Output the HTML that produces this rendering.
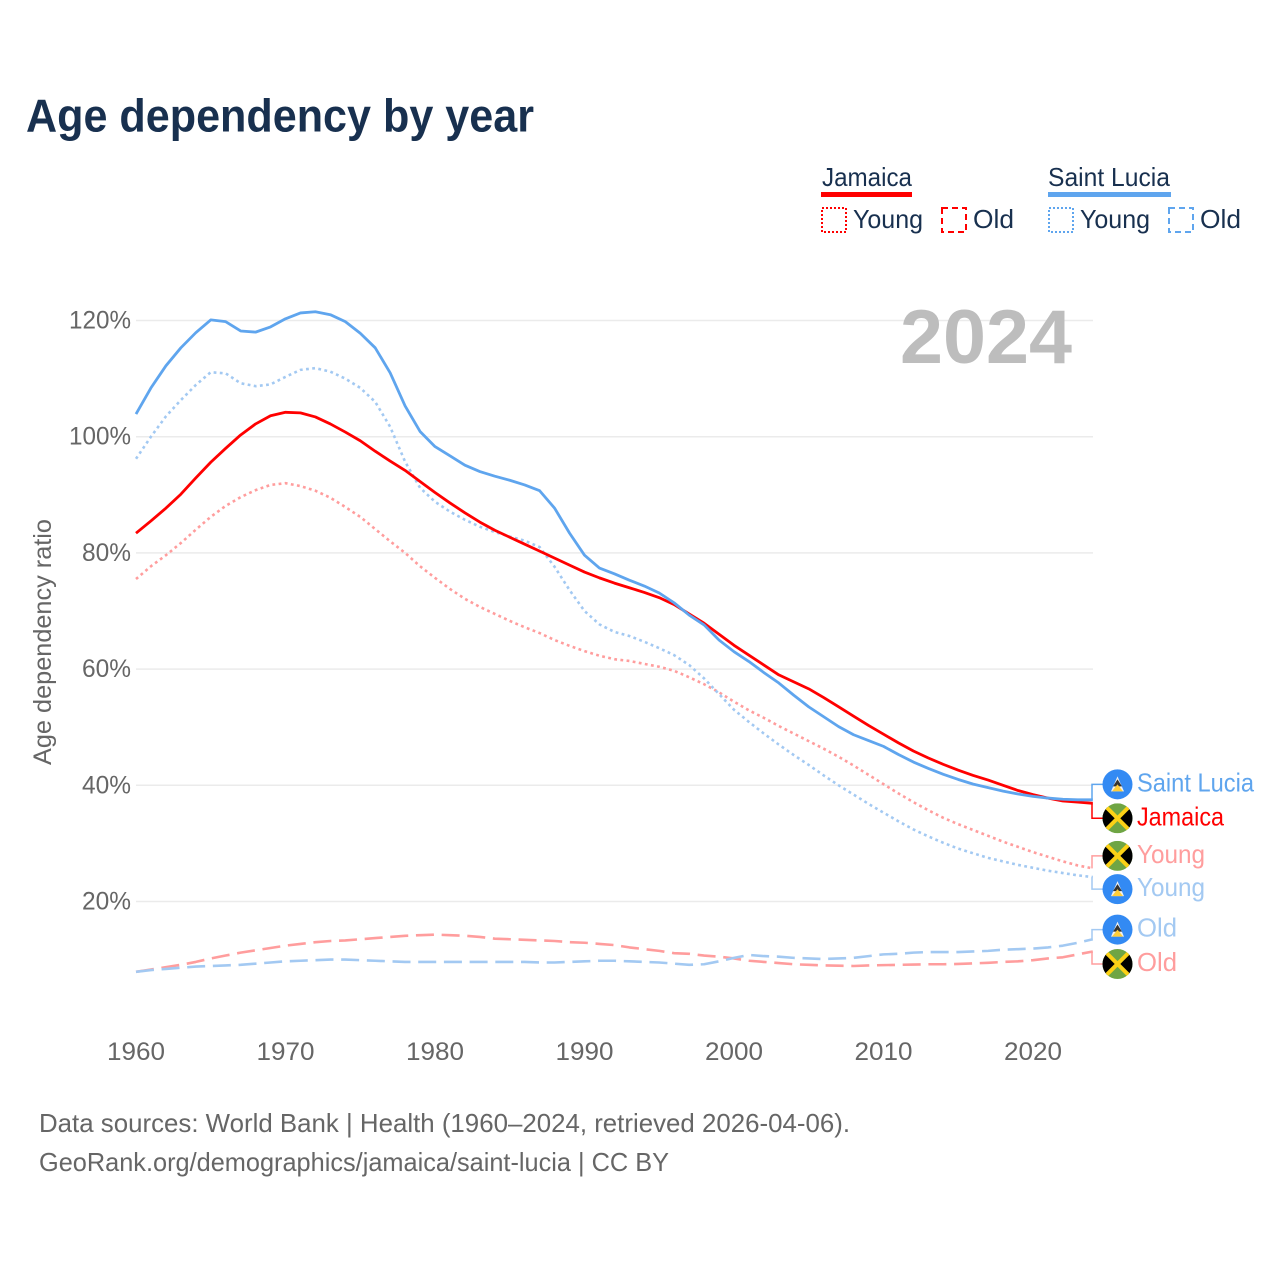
<!DOCTYPE html>
<html lang="en">
<head>
<meta charset="utf-8">
<title>Age dependency by year</title>
<style>
html,body{margin:0;padding:0;background:#fff;}
svg{display:block;font-family:"Liberation Sans",sans-serif;}
</style>
</head>
<body>
<svg id="chart" xmlns="http://www.w3.org/2000/svg" width="1280" height="1280" viewBox="0 0 1280 1280">
  <rect width="1280" height="1280" fill="#fff"/>
  <text x="26" y="131.5" font-size="46" font-weight="700" fill="#18304f" textLength="508" lengthAdjust="spacingAndGlyphs">Age dependency by year</text>

  <g id="legend">
    <text x="822" y="186" font-size="26" fill="#18304f" textLength="90" lengthAdjust="spacingAndGlyphs">Jamaica</text>
    <rect x="821" y="192" width="91" height="5" fill="#ff0000"/>
    <rect x="822" y="208" width="24" height="24" fill="none" stroke="#ff0000" stroke-width="2" stroke-dasharray="2 2"/>
    <text x="853" y="228" font-size="26" fill="#18304f" textLength="70" lengthAdjust="spacingAndGlyphs">Young</text>
    <rect x="942" y="208" width="24" height="24" fill="none" stroke="#ff0000" stroke-width="2" stroke-dasharray="6 4"/>
    <text x="973" y="228" font-size="26" fill="#18304f" textLength="41" lengthAdjust="spacingAndGlyphs">Old</text>

    <text x="1048" y="186" font-size="26" fill="#18304f" textLength="122" lengthAdjust="spacingAndGlyphs">Saint Lucia</text>
    <rect x="1048" y="192" width="123" height="5" fill="#5fa5ee"/>
    <rect x="1049" y="208" width="24" height="24" fill="none" stroke="#5fa5ee" stroke-width="2" stroke-dasharray="2 2"/>
    <text x="1080" y="228" font-size="26" fill="#18304f" textLength="70" lengthAdjust="spacingAndGlyphs">Young</text>
    <rect x="1169" y="208" width="24" height="24" fill="none" stroke="#5fa5ee" stroke-width="2" stroke-dasharray="6 4"/>
    <text x="1200" y="228" font-size="26" fill="#18304f" textLength="41" lengthAdjust="spacingAndGlyphs">Old</text>
  </g>

  <g id="grid"></g>
  <text x="900" y="363" font-size="76" font-weight="700" fill="#bdbdbd" textLength="172" lengthAdjust="spacingAndGlyphs">2024</text>
  <g id="xticks"></g>
  <g id="yticks"></g>
  <text transform="translate(51,642) rotate(-90)" text-anchor="middle" font-size="25" fill="#666" textLength="246" lengthAdjust="spacingAndGlyphs">Age dependency ratio</text>
  <g id="series"></g>
  <g id="labels"></g>

  <text x="39" y="1132" font-size="26" fill="#666" textLength="811" lengthAdjust="spacingAndGlyphs">Data sources: World Bank | Health (1960–2024, retrieved 2026-04-06).</text>
  <text x="39" y="1171" font-size="26" fill="#666" textLength="630" lengthAdjust="spacingAndGlyphs">GeoRank.org/demographics/jamaica/saint-lucia | CC BY</text>
</svg>
<script>
const startYear = 1960;
const xTickLabels = [1960, 1970, 1980, 1990, 2000, 2010, 2020];
const yTickLabels = [20, 40, 60, 80, 100, 120];

const jamaicaTotal = [83.4,85.5,87.7,90.1,92.9,95.6,98,100.3,102.2,103.6,
  104.2,104.1,103.4,102.2,100.8,99.3,97.5,95.8,94.2,92.3,
  90.4,88.6,86.9,85.3,83.9,82.7,81.5,80.3,79.1,77.9,
  76.7,75.7,74.8,74,73.2,72.3,71.1,69.5,67.9,66,
  64.1,62.4,60.7,59,57.8,56.6,55.1,53.5,51.9,50.3,
  48.8,47.3,45.9,44.7,43.6,42.6,41.7,40.9,40,39.1,
  38.4,37.8,37.3,37.1,36.9];
const saintLuciaTotal = [103.9,108.4,112.2,115.3,117.9,120.1,119.8,118.2,118,118.9,
  120.3,121.3,121.5,121,119.8,117.8,115.3,111,105.3,100.9,
  98.3,96.7,95.1,94,93.2,92.5,91.7,90.7,87.7,83.4,
  79.6,77.4,76.4,75.3,74.3,73.1,71.4,69.3,67.6,65,
  63,61.3,59.4,57.6,55.5,53.5,51.8,50.1,48.7,47.7,
  46.7,45.3,44,42.9,41.9,41,40.2,39.6,39,38.5,
  38.1,37.8,37.6,37.5,37.5];
const jamaicaYoung = [75.5,77.7,79.6,81.7,84,86.2,88.1,89.6,90.8,91.7,
  92,91.5,90.7,89.5,87.9,86.2,84.1,82,80,77.7,
  75.7,73.8,72.1,70.7,69.5,68.3,67.2,66.2,65,64,
  63.1,62.3,61.7,61.4,60.9,60.4,59.7,58.6,57.4,56,
  54.4,52.9,51.6,50.2,48.9,47.6,46.3,44.9,43.4,41.8,
  40.2,38.6,37.1,35.7,34.4,33.3,32.3,31.3,30.3,29.4,
  28.5,27.7,26.9,26.2,25.7];
const saintLuciaYoung = [96.2,100,103.5,106.3,108.9,111.1,110.9,109.2,108.7,109,
  110.3,111.5,111.8,111.2,110,108.4,106,101.7,95.7,91.2,
  88.8,87.1,85.7,84.5,83.6,82.8,82.1,81,77.6,73.6,
  70,67.7,66.4,65.7,64.7,63.6,62.4,60.7,58.4,55.7,
  53,50.9,48.9,47,45.2,43.5,41.7,40,38.4,36.8,
  35.3,33.8,32.4,31.2,30.1,29.1,28.3,27.5,26.9,26.3,
  25.8,25.3,24.9,24.5,24.2];
const jamaicaOld = [7.9,8.3,8.7,9.1,9.6,10.2,10.7,11.2,11.6,12,
  12.4,12.7,13,13.2,13.3,13.5,13.7,13.9,14.1,14.2,
  14.3,14.2,14.1,13.9,13.6,13.5,13.4,13.3,13.2,13,
  12.9,12.7,12.5,12.1,11.8,11.5,11.1,11,10.7,10.5,
  10.2,9.8,9.6,9.4,9.2,9.1,9,8.95,8.9,9,
  9.05,9.1,9.15,9.2,9.2,9.25,9.35,9.45,9.6,9.7,
  9.9,10.2,10.4,10.9,11.4];
const saintLuciaOld = [7.9,8.2,8.4,8.6,8.8,8.9,9,9.1,9.3,9.5,
  9.7,9.8,9.9,10,10,9.9,9.8,9.7,9.6,9.6,
  9.6,9.6,9.6,9.6,9.6,9.6,9.6,9.5,9.5,9.6,
  9.7,9.8,9.8,9.7,9.6,9.5,9.3,9.1,9.2,9.7,
  10.3,10.8,10.6,10.5,10.3,10.2,10.1,10.2,10.3,10.6,
  10.9,11,11.2,11.3,11.3,11.3,11.4,11.5,11.7,11.8,
  11.9,12.1,12.4,12.9,13.5];

const NS = 'http://www.w3.org/2000/svg';
function xScale(year) { return 136 + (year - 1960) * 14.95; }
function yScale(v) { return 320.5 + (120 - v) * 5.81; }
function make(tag, attrs, parent) {
  const el = document.createElementNS(NS, tag);
  for (const k in attrs) el.setAttribute(k, attrs[k]);
  parent.appendChild(el);
  return el;
}

const grid = document.getElementById('grid');
const yticks = document.getElementById('yticks');
yTickLabels.forEach(function (v) {
  const line = make('line', {x1: 136, x2: 1093, y1: yScale(v), y2: yScale(v), stroke: '#ebebeb', 'stroke-width': 1.5}, grid);
  
  
  const t = make('text', {x: 131, y: yScale(v) + 8, 'text-anchor': 'end', 'font-size': 25, fill: '#666', textLength: v >= 100 ? 62 : 49, lengthAdjust: 'spacingAndGlyphs'}, yticks);
  t.textContent = v + '%';
  
  
});

const xticks = document.getElementById('xticks');
xTickLabels.forEach(function (y) {
  const t = make('text', {x: xScale(y), y: 1060, 'text-anchor': 'middle', 'font-size': 25, fill: '#666', textLength: 58, lengthAdjust: 'spacingAndGlyphs'}, xticks);
  t.textContent = y;
  
  
});

const seriesGroup = document.getElementById('series');
function drawLine(values, color, width, dash, name) {
  const pts = values.map(function (v, i) { return xScale(startYear + i).toFixed(2) + ',' + yScale(v).toFixed(2); }).join(' ');
  const attrs = {points: pts, fill: 'none', stroke: color, 'stroke-width': width, 'stroke-linejoin': 'round'};
  if (dash) attrs['stroke-dasharray'] = dash;
  const el = make('polyline', attrs, seriesGroup);
  
  
}
const RED = '#ff0000', BLUE = '#5fa5ee', LRED = '#ff9d9d', LBLUE = '#a3c9f2';
drawLine(jamaicaOld, LRED, 2.6, '18 7.7', 'line-jamaica-old');
drawLine(saintLuciaOld, LBLUE, 2.6, '18 7.7', 'line-saint-lucia-old');
drawLine(jamaicaYoung, LRED, 2.6, '2.8 3.4', 'line-jamaica-young');
drawLine(saintLuciaYoung, LBLUE, 2.6, '2.8 3.4', 'line-saint-lucia-young');
drawLine(jamaicaTotal, RED, 2.8, null, 'line-jamaica-total');
drawLine(saintLuciaTotal, BLUE, 2.8, null, 'line-saint-lucia-total');

const labels = document.getElementById('labels');
function flagJamaica(g, cx, cy) {
  const cp = 'cp' + Math.round(cy);
  const c = make('clipPath', {id: cp}, g);
  make('circle', {cx: cx, cy: cy, r: 15}, c);
  const f = make('g', {'clip-path': 'url(#' + cp + ')'}, g);
  make('rect', {x: cx - 15, y: cy - 15, width: 30, height: 30, fill: '#6fa544'}, f);
  make('polygon', {points: [cx - 15, cy - 15, cx, cy, cx - 15, cy + 15].join(' '), fill: '#000'}, f);
  make('polygon', {points: [cx + 15, cy - 15, cx, cy, cx + 15, cy + 15].join(' '), fill: '#000'}, f);
  make('line', {x1: cx - 15, y1: cy - 15, x2: cx + 15, y2: cy + 15, stroke: '#fcd116', 'stroke-width': 4}, f);
  make('line', {x1: cx + 15, y1: cy - 15, x2: cx - 15, y2: cy + 15, stroke: '#fcd116', 'stroke-width': 4}, f);
}
function flagLucia(g, cx, cy) {
  make('circle', {cx: cx, cy: cy, r: 15, fill: '#338af3'}, g);
  make('polygon', {points: [cx, cy - 8, cx + 6.5, cy + 7, cx - 6.5, cy + 7].join(' '), fill: '#f0f0f0'}, g);
  make('polygon', {points: [cx, cy - 5, cx + 4.5, cy + 2, cx - 4.5, cy + 2].join(' '), fill: '#333'}, g);
  make('polygon', {points: [cx, cy, cx + 5.5, cy + 7, cx - 5.5, cy + 7].join(' '), fill: '#ffce3a'}, g);
}
function drawLabel(values, offset, text, color, country, name, textW) {
  const y0 = yScale(values[values.length - 1]);
  const y1 = y0 + offset;
  const g = make('g', {}, labels);
  
  
  const c = make('polyline', {points: [1092, y0, 1092, y1, 1103, y1].join(' '), fill: 'none', stroke: color, 'stroke-width': 1.5}, g);
  
  
  if (country === 'jm') flagJamaica(g, 1117.5, y1); else flagLucia(g, 1117.5, y1);
  const t = make('text', {x: 1137, y: y1 + 7, 'font-size': 26, fill: color, textLength: textW, lengthAdjust: 'spacingAndGlyphs'}, g);
  t.textContent = text;
  
  
}
drawLabel(saintLuciaTotal, -15.5, 'Saint Lucia', BLUE, 'lc', 'end-label-saint-lucia', 117);
drawLabel(jamaicaTotal, 15, 'Jamaica', RED, 'jm', 'end-label-jamaica', 87);
drawLabel(jamaicaYoung, -12.5, 'Young', LRED, 'jm', 'end-label-jamaica-young', 68);
drawLabel(saintLuciaYoung, 12, 'Young', LBLUE, 'lc', 'end-label-saint-lucia-young', 68);
drawLabel(saintLuciaOld, -9.7, 'Old', LBLUE, 'lc', 'end-label-saint-lucia-old', 40);
drawLabel(jamaicaOld, 12.5, 'Old', LRED, 'jm', 'end-label-jamaica-old', 40);
</script>
</body>
</html>
